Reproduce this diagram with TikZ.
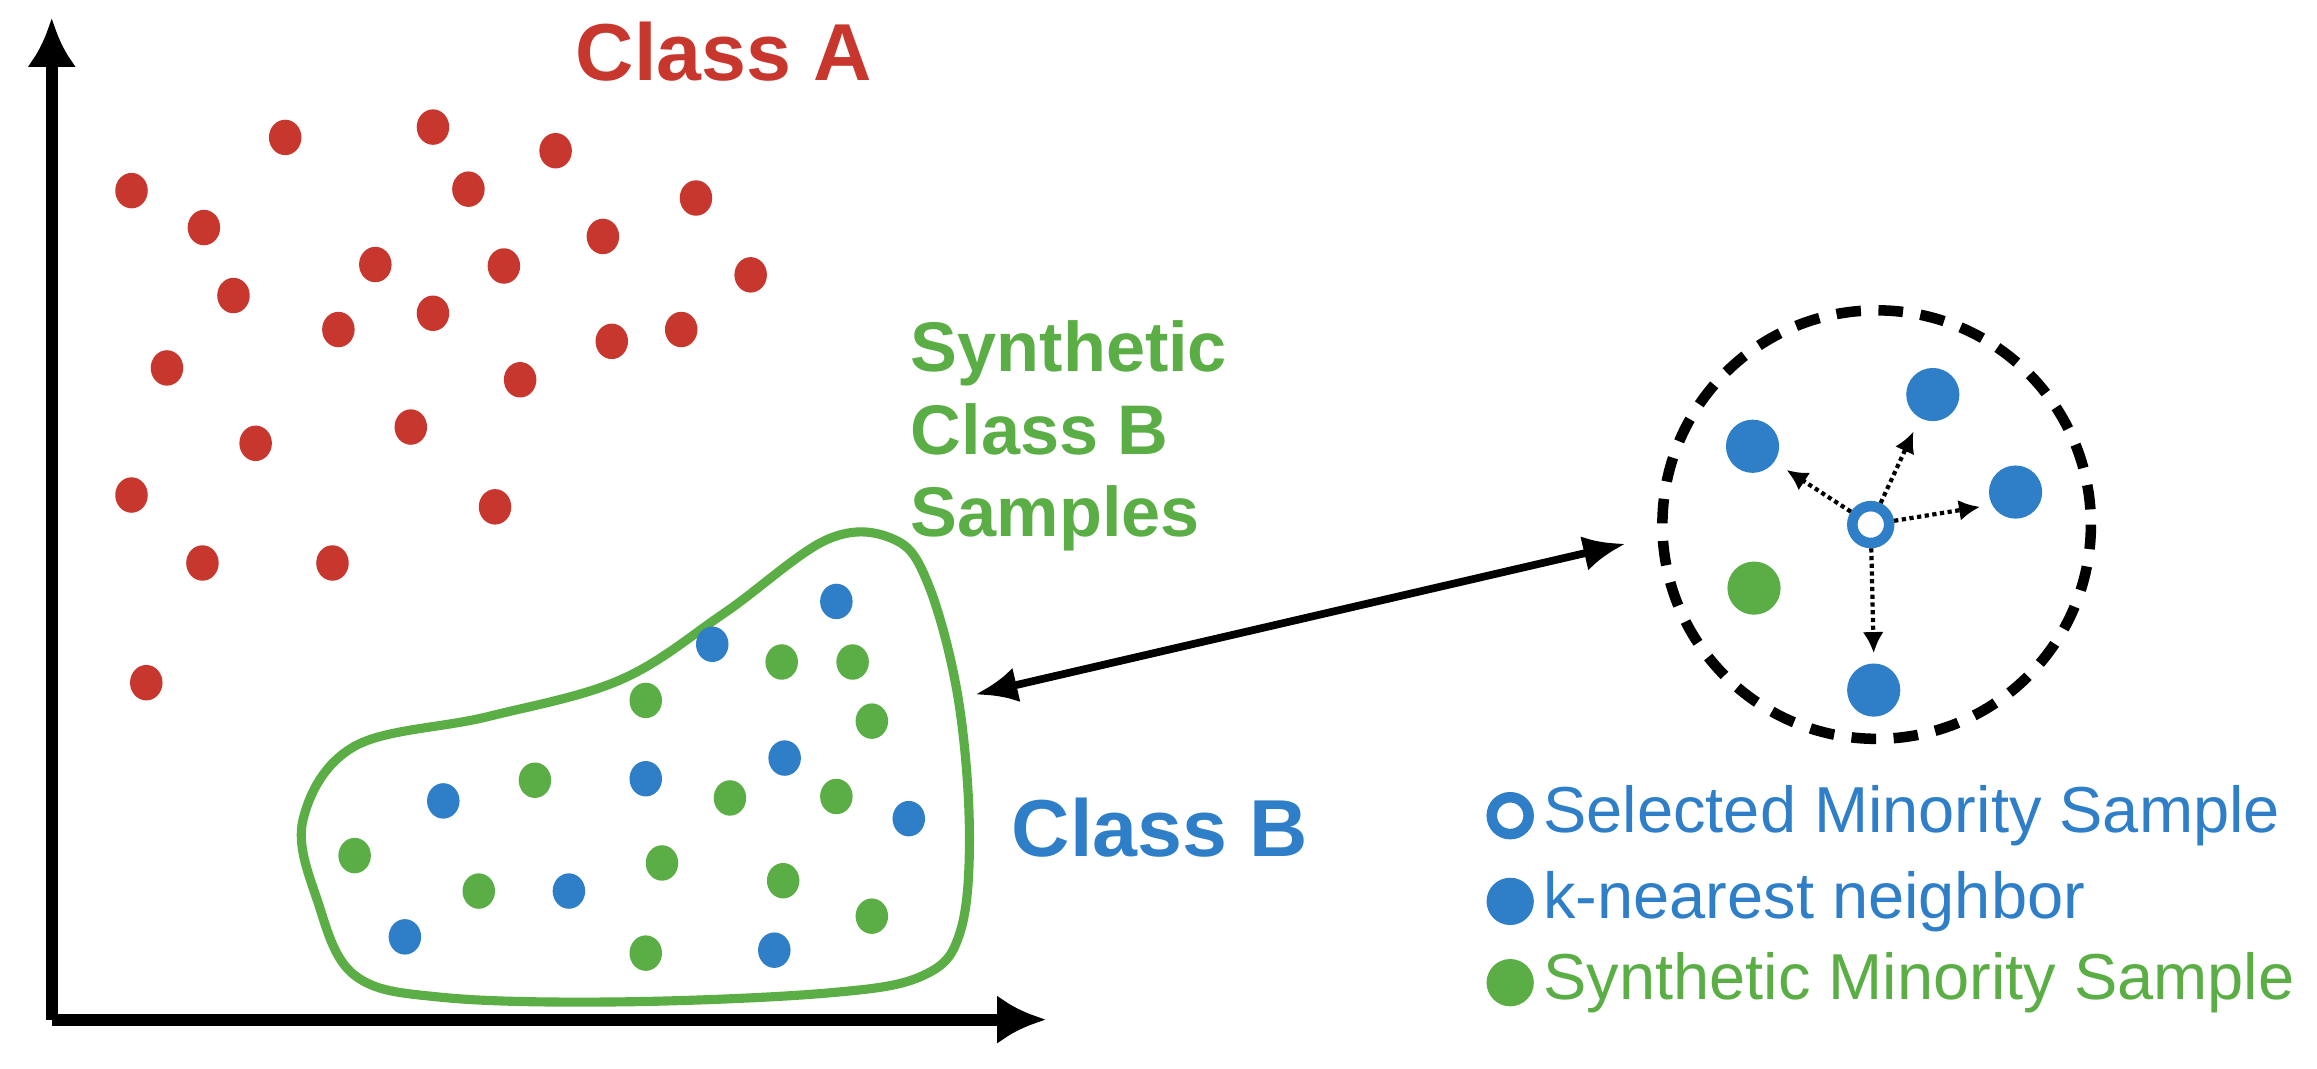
\documentclass[tikz,border=0pt]{standalone}
\usepackage{fontspec}
\setmainfont{Liberation Sans}
\usetikzlibrary{arrows.meta}
\definecolor{cr}{HTML}{C8372D}
\definecolor{cb}{HTML}{2F7EC8}
\definecolor{cg}{HTML}{5AAE45}
\begin{document}
\begin{tikzpicture}[x=0.01478cm,y=-0.01478cm,
 rd/.style={fill=cr,draw=none},
 bd/.style={fill=cb,draw=none},
 gd/.style={fill=cg,draw=none},
 ax/.style={line width=3.4pt,-{Latex[length=14pt,width=14pt]}},
 dt/.style={densely dotted,line width=1.2pt,-{Latex[length=6pt,width=6pt]}},
 sel/.style={circle,draw=cb,line width=3pt,fill=white,minimum size=10.5pt,inner sep=0}]
\useasboundingbox (0,0) rectangle (1568,723);
\coordinate (o) at (35,690);
\coordinate (ytop) at (35,12);
\coordinate (xend) at (708,690);
\draw[ax] (o) -- (ytop);
\draw[ax] (o) -- (xend);
\foreach \p in {(193,93),(293,86),(376,102),(89,129),(317,128),(471,134),(138,154),(408,160),(254,179),(341,180),(508,186),(158,200),(229,223),(293,212),(414,231),(461,223),(113,249),(352,257),(278,289),(173,300),(89,335),(335,343),(137,381),(225,381),(99,462)}
  \fill[rd] \p ellipse (11 and 12);
\node[text=cr,font=\bfseries\fontsize{23}{27}\selectfont] (ca) at (490,35) {Class A};
\draw[cg,line width=2.6pt] plot[smooth cycle,tension=0.6] coordinates {(240,505) (330,485) (420,460) (490,415) (560,365) (605,365) (628,395) (648,470) (656,560) (650,630) (625,660) (560,672) (420,678) (300,675) (240,660) (215,610) (205,555)};
\foreach \p in {(566,407),(482,436),(531,513),(437,527),(300,542),(615,554),(385,603),(274,634),(524,643)}
  \fill[bd] \p ellipse (11 and 12);
\foreach \p in {(529,448),(577,448),(437,474),(590,488),(362,528),(494,540),(566,539),(240,579),(448,584),(324,603),(530,596),(590,620),(437,645)}
  \fill[gd] \p ellipse (11 and 12);
\node[text=cg,font=\bfseries\fontsize{20}{23.5}\selectfont,align=left,anchor=west] (syn) at (608,295) {Synthetic\\Class B\\Samples};
\node[text=cb,font=\bfseries\fontsize{23}{27}\selectfont] (cbt) at (785,560) {Class B};
\coordinate (a1) at (660,470);
\coordinate (a2) at (1100,368);
\draw[line width=2.2pt,{Latex[length=12pt,width=10pt]}-{Latex[length=12pt,width=10pt]}] (a1) -- (a2);
\draw[line width=3pt,dash pattern=on 7pt off 5pt] (1270,355) circle (145);
\fill[bd] (1186,302) circle (18) node (n1) {};
\fill[bd] (1308,267) circle (18) node (n2) {};
\fill[bd] (1364,333) circle (18) node (n3) {};
\fill[bd] (1268,467) circle (18) node (n4) {};
\fill[gd] (1187,398) circle (18) node (n5) {};
\node[sel] (s) at (1266,355) {};
\coordinate (e1) at (1209,318);
\coordinate (e2) at (1295,292);
\coordinate (e3) at (1340,343);
\coordinate (e4) at (1268,442);
\draw[dt] (s) -- (e1);
\draw[dt] (s) -- (e2);
\draw[dt] (s) -- (e3);
\draw[dt] (s) -- (e4);
\node[sel] (l1) at (1022,552) {};
\fill[bd] (1022,610) circle (16) node (l2) {};
\fill[gd] (1022,665) circle (16) node (l3) {};
\node[anchor=west,text=cb,font=\fontsize{18.5}{20}\selectfont] (t1) at (1036,552) {Selected Minority Sample};
\node[anchor=west,text=cb,font=\fontsize{18.5}{20}\selectfont] (t2) at (1036,610) {k-nearest neighbor};
\node[anchor=west,text=cg,font=\fontsize{18.5}{20}\selectfont] (t3) at (1036,665) {Synthetic Minority Sample};
\end{tikzpicture}
\end{document}
